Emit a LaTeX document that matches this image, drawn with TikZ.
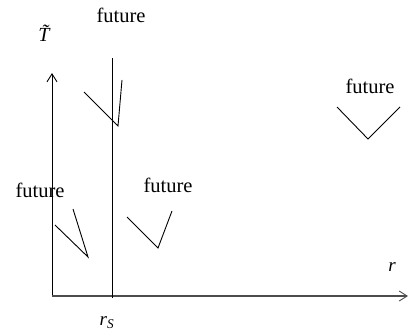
\documentclass[tikz,border=0pt]{standalone}
\usepackage{fontspec}
\setmainfont{Liberation Serif}
\usetikzlibrary{arrows.meta}
\begin{document}
\begin{tikzpicture}[x=1pt,y=-1pt,
  lbl/.style={inner sep=0pt,font=\fontsize{20.5}{24}\selectfont},
  ln/.style={line width=0.9pt,black},
  axarrow/.style={-{Straight Barb[length=8pt,width=10pt,line width=0.9pt]}}]
\useasboundingbox (0,0) rectangle (409,335);
% axes
\coordinate (O) at (52,296);
\coordinate (Ttip) at (52,73);
\coordinate (Rtip) at (408,296);
\draw[ln,axarrow] (O) -- (Ttip);
\draw[line width=1.4pt,black!70,axarrow] (O) -- (Rtip);
% horizon r_S
\coordinate (H1) at (112,58);
\coordinate (H2) at (112,298);
\draw[ln] (H1) -- (H2);
% cones
\coordinate (a1) at (84,92); \coordinate (a2) at (118,126); \coordinate (a3) at (122,80);
\draw[ln] (a1) -- (a2) -- (a3);
\coordinate (b1) at (55,225); \coordinate (b2) at (88,257); \coordinate (b3) at (73,209);
\draw[ln] (b1) -- (b2) -- (b3);
\coordinate (c1) at (127,217); \coordinate (c2) at (158,248); \coordinate (c3) at (172,211);
\draw[ln] (c1) -- (c2) -- (c3);
\coordinate (d1) at (337,107); \coordinate (d2) at (368,139); \coordinate (d3) at (400,107);
\draw[ln] (d1) -- (d2) -- (d3);
% labels
\node[lbl] (f1) at (121,15) {future};
\node[lbl] (f2) at (40,190) {future};
\node[lbl] (f3) at (168,185) {future};
\node[lbl] (f4) at (370,86) {future};
\node[inner sep=0pt,font=\fontsize{20}{24}\selectfont] (Tl) at (48,33) {\textit{T\char"0303}};
\node[inner sep=0pt,font=\fontsize{19}{22}\selectfont] (rl) at (392,267) {\textit{r}};
\node[inner sep=0pt,font=\fontsize{19}{22}\selectfont] (rs) at (107,323) {\textit{r}\textsubscript{\textit{S}}};
\end{tikzpicture}
\end{document}
